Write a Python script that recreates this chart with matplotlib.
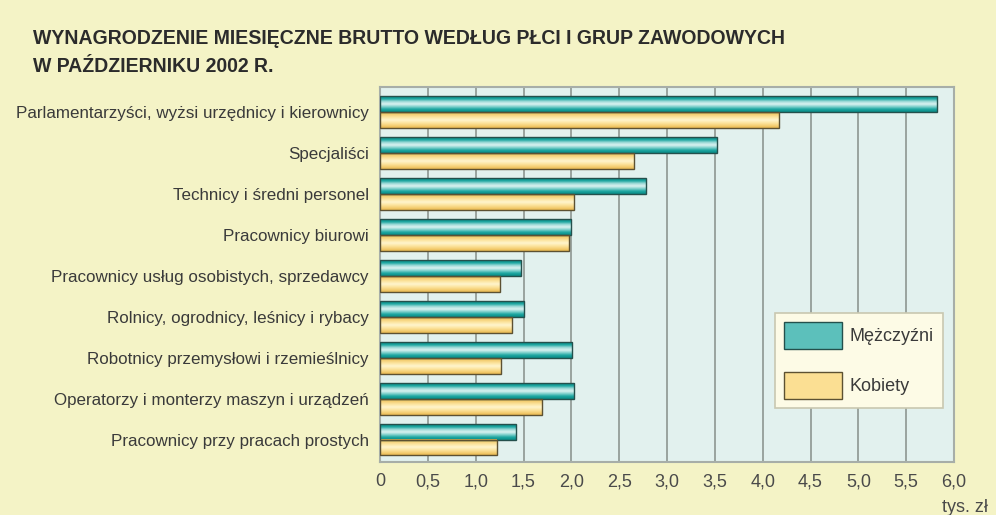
import numpy as np
import matplotlib.pyplot as plt
from matplotlib.colors import LinearSegmentedColormap
from matplotlib.patches import Patch

# dane (tys. zł)
kategorie = [
    "Parlamentarzyści, wyżsi urzędnicy i kierownicy",
    "Specjaliści",
    "Technicy i średni personel",
    "Pracownicy biurowi",
    "Pracownicy usług osobistych, sprzedawcy",
    "Rolnicy, ogrodnicy, leśnicy i rybacy",
    "Robotnicy przemysłowi i rzemieślnicy",
    "Operatorzy i monterzy maszyn i urządzeń",
    "Pracownicy przy pracach prostych",
]
mezczyzni = [5.82, 3.52, 2.78, 2.00, 1.47, 1.51, 2.01, 2.03, 1.42]
kobiety = [4.17, 2.65, 2.03, 1.98, 1.25, 1.38, 1.27, 1.69, 1.22]
xticks = [0, 0.5, 1.0, 1.5, 2.0, 2.5, 3.0, 3.5, 4.0, 4.5, 5.0, 5.5, 6.0]
xticklabels = ["0", "0,5", "1,0", "1,5", "2,0", "2,5", "3,0", "3,5",
               "4,0", "4,5", "5,0", "5,5", "6,0"]

FONT = ["Liberation Sans", "DejaVu Sans"]
BG = "#f4f3c6"
AX_BG = "#e2f1ee"

# gradienty dla słupków
cm_m = LinearSegmentedColormap.from_list(
    "m", ["#0b8a85", "#1aa6a0", "#7fd0cc", "#dff4f3", "#9ddad7", "#1aa6a0", "#0b8a85"])
cm_k = LinearSegmentedColormap.from_list(
    "k", ["#e9b94f", "#f6d27a", "#fde6a3", "#fff5cf", "#fde6a3", "#f6d27a", "#e9b94f"])
grad = np.linspace(0, 1, 64).reshape(-1, 1)

fig = plt.figure(figsize=(9.96, 5.15), dpi=100, facecolor=BG)
ax = fig.add_axes([380 / 996, 1 - 462 / 515, (954 - 380) / 996, (462 - 87) / 515])
ax.set_facecolor(AX_BG)

n = len(kategorie)
h = 0.39
for i in range(n):
    y = n - 1 - i
    for val, yc, cm, ec in [(mezczyzni[i], y + h / 2, cm_m, "#24504c"),
                            (kobiety[i], y - h / 2, cm_k, "#5c5132")]:
        ax.imshow(grad, extent=[0, val, yc - h / 2, yc + h / 2], origin="lower",
                  aspect="auto", cmap=cm, interpolation="bicubic", zorder=2)
        ax.barh(yc, val, height=h, fill=False, edgecolor=ec, linewidth=1.0, zorder=3)

ax.set_xlim(0, 6)
ax.set_ylim(-0.55, n - 1 + 0.62)
ax.set_axisbelow(True)
ax.xaxis.grid(True, color="#9aa39e", linewidth=1.4)
ax.yaxis.grid(False)

ax.set_xticks(xticks)
ax.set_xticklabels(xticklabels, family=FONT, fontsize=13, color="#4a4a4a")
ax.set_yticks([n - 1 - i for i in range(n)])
ylabs = ax.set_yticklabels(kategorie, family=FONT, fontsize=12, color="#3a3a3a")
ax.tick_params(axis="both", length=0)
ax.tick_params(axis="x", pad=8)
ax.tick_params(axis="y", pad=8)
for s in ax.spines.values():
    s.set_color("#a7aea8")
    s.set_linewidth(1.5)

fig.text(988 / 996, 1 - 507 / 515, "tys. zł", ha="right", va="center",
         family=FONT, fontsize=13, color="#4a4a4a")

t1 = fig.text(33 / 996, 1 - 38 / 515,
              "WYNAGRODZENIE MIESIĘCZNE BRUTTO WEDŁUG PŁCI I GRUP ZAWODOWYCH",
              family=FONT, fontweight="bold", fontsize=14, color="#2b2b2b", va="center")
t2 = fig.text(33 / 996, 1 - 66 / 515, "W PAŹDZIERNIKU 2002 R.",
              family=FONT, fontweight="bold", fontsize=14, color="#2b2b2b", va="center")

# dopasowanie rozmiaru czcionki do szerokości z oryginału
r = fig.canvas.get_renderer()
s = t1.get_fontsize() * 757 / t1.get_window_extent(r).width
t1.set_fontsize(s)
t2.set_fontsize(s)
wmax = ylabs[0].get_window_extent(r).width
s = ylabs[0].get_fontsize() * 352 / wmax
for t in ylabs:
    t.set_fontsize(s)

leg = ax.legend(handles=[Patch(facecolor="#5cc0bb", edgecolor="#24504c", label="Mężczyźni"),
                         Patch(facecolor="#fbdf93", edgecolor="#5c5132", label="Kobiety")],
                loc="upper left", bbox_to_anchor=(775 / 996, 1 - 313 / 515),
                bbox_transform=fig.transFigure, prop={"family": FONT, "size": 13},
                frameon=True, fancybox=False, framealpha=1, borderaxespad=0,
                handlelength=3.2, handleheight=1.92, labelspacing=1.25,
                borderpad=0.5, handletextpad=0.45)
leg.get_frame().set_facecolor("#fdfbe6")
leg.get_frame().set_edgecolor("#c9c8b0")
leg.get_frame().set_linewidth(1.2)
for t in leg.get_texts():
    t.set_color("#3a3a3a")

fig.savefig("out.png", dpi=100, facecolor=BG)
